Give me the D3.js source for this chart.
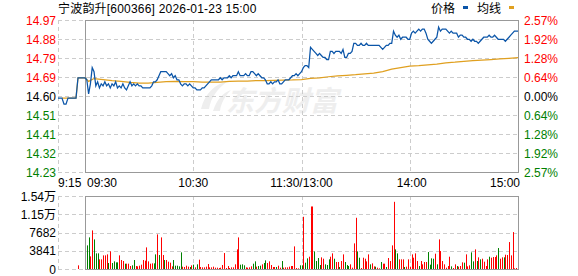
<!DOCTYPE html>
<html><head><meta charset="utf-8">
<script src="https://cdn.jsdelivr.net/npm/d3@7"></script>
<style>
body{margin:0;background:#fff;}
svg{display:block;}
text{font-family:"Liberation Sans",Arial,"Noto Sans CJK SC",sans-serif;font-size:12px;}
</style>
</head><body>
<svg id="c" width="578" height="276"></svg>
<script>
// ---------------- DATA ----------------
const stockName = "宁波韵升";
const stockCode = "600366";
const stamp = "2026-01-23 15:00";
const prevClose = 14.60;
const priceLabels = ["14.97","14.88","14.79","14.69","14.60","14.51","14.41","14.32","14.23"];
const pctLabels = ["2.57%","1.92%","1.28%","0.64%","0.00%","0.64%","1.28%","1.92%","2.57%"];
const volLabels = ["1.54万","1.15万","7682","3841","0"];
const volMax = 15364;
const timeLabels = ["9:15","09:30","10:30","11:30/13:00","14:00","15:00"];
const legendNames = ["价格","均线"];

// pre-market auction 9:15 .. 9:25
const prePrice = [14.59,14.59,14.59,14.56,14.56,14.59,14.59,14.59,14.59,14.59,14.69];
const preAvg   = [null,null,14.59,14.59,14.59,14.59,14.59,14.59,14.59,14.59,14.69];
const preVol = [0,0,0,0,0,0,0,0,0,0,770];

// minute prices 09:30 .. 15:00 (241 points)
const price = [
14.69,14.68,14.61,14.66,14.74,14.72,14.65,14.67,14.64,14.66,
14.65,14.67,14.65,14.66,14.64,14.66,14.65,14.67,14.64,14.65,
14.64,14.66,14.64,14.63,14.65,14.67,14.65,14.66,14.65,14.66,
14.65,14.65,14.64,14.64,14.64,14.64,14.64,14.65,14.67,14.67,
14.68,14.70,14.72,14.72,14.72,14.72,14.71,14.70,14.71,14.69,
14.70,14.68,14.68,14.66,14.65,14.66,14.66,14.65,14.66,14.65,
14.64,14.64,14.63,14.63,14.63,14.64,14.64,14.65,14.66,14.67,
14.68,14.68,14.68,14.68,14.68,14.69,14.68,14.69,14.69,14.69,
14.70,14.69,14.70,14.70,14.70,14.72,14.70,14.70,14.70,14.71,
14.70,14.70,14.72,14.72,14.71,14.70,14.71,14.70,14.69,14.69,
14.68,14.66,14.66,14.67,14.66,14.67,14.67,14.68,14.66,14.66,
14.67,14.68,14.68,14.68,14.69,14.70,14.70,14.71,14.70,14.71,
14.72,14.74,14.75,14.75,14.74,14.84,14.83,14.82,14.81,14.80,
14.81,14.80,14.79,14.79,14.78,14.78,14.82,14.82,14.81,14.82,
14.82,14.82,14.81,14.83,14.79,14.79,14.81,14.81,14.82,14.86,
14.86,14.85,14.85,14.86,14.85,14.85,14.86,14.85,14.85,14.85,
14.85,14.85,14.85,14.85,14.84,14.83,14.84,14.85,14.85,14.86,
14.86,14.92,14.90,14.89,14.90,14.88,14.89,14.89,14.89,14.88,
14.88,14.91,14.92,14.91,14.92,14.93,14.92,14.93,14.93,14.91,
14.88,14.87,14.86,14.87,14.88,14.89,14.94,14.92,14.93,14.93,
14.93,14.92,14.91,14.92,14.91,14.91,14.91,14.89,14.90,14.90,
14.89,14.89,14.88,14.88,14.87,14.88,14.87,14.87,14.86,14.87,
14.88,14.89,14.89,14.89,14.90,14.89,14.89,14.90,14.89,14.88,
14.88,14.88,14.88,14.87,14.88,14.89,14.90,14.91,14.92,14.92,
14.92];

// average price line, sampled minutes
const avgIdx = [0,2,5,10,15,20,25,30,35,40,45,50,55,60,65,70,75,80,85,90,95,100,105,110,115,120,
  125,130,135,140,145,150,155,160,165,170,175,180,185,190,195,200,205,210,215,220,225,230,235,240];
const avgVal = [14.690,14.672,14.686,14.681,14.676,14.672,14.667,14.664,14.663,14.667,14.671,14.672,14.671,
  14.671,14.669,14.669,14.669,14.672,14.674,14.674,14.676,14.676,14.677,14.678,14.679,14.681,
  14.687,14.689,14.695,14.699,14.702,14.705,14.709,14.713,14.720,14.733,14.740,14.747,14.750,
  14.754,14.757,14.764,14.767,14.771,14.774,14.777,14.780,14.783,14.786,14.789];

// minute volume 09:30 .. 15:00
const vol = [
5000,
4970,6650,2660,8120,6230,3290,3290,2030,2030,2870,
2870,3080,1260,3710,1260,1610,1400,1400,2870,1890,
1680,1120,1120,1120,630,770,1890,630,560,700,
910,1890,1750,4550,1610,1120,1190,1190,3080,7280,
2940,6650,2940,1890,1890,1540,1330,560,1890,700,
700,560,3500,490,420,700,490,420,770,910,
350,980,1960,420,350,350,490,1050,350,350,
490,280,280,210,280,840,3360,210,630,210,
350,350,980,4130,6650,910,980,770,350,280,
350,560,1120,1610,490,630,700,980,1260,1820,
1260,1610,840,420,420,420,700,280,1680,280,
350,350,490,630,630,4760,210,140,770,770,
10990,1330,2240,2590,13160,13160,3710,1680,2310,840,
2450,2170,980,840,2030,2590,3290,2170,1470,1470,
420,1680,3080,1470,840,630,980,280,5390,10780,
3710,2380,210,2380,2170,1610,3080,980,1190,560,
490,280,140,1470,1120,1120,420,2310,1680,4970,
14140,4130,3290,2030,2030,2030,420,490,2030,420,
3080,2380,3290,1680,630,1680,980,1470,1470,3570,
910,2240,2170,3220,980,6230,3780,1680,980,280,
630,2590,560,210,980,630,490,630,1400,1330,
3080,560,770,3500,1610,4130,1680,2450,2030,2170,
1540,630,2030,2590,2380,2520,2520,2870,4410,2170,
2450,2450,3010,2940,5670,2870,7770,140,210,6860];
// R = up (red), G = down (green)
const volDir = ("G"+
"GGRRGGGRRR"+"RRGRGGGGRR"+"RGRRRGGRRR"+"RRRRRRRGGR"+"GRRGRRRRGG"+
"GGGRRRRGRG"+"RGRRRRRRRR"+"RRRRRRRRRR"+"RRRRRGGGRR"+"RRGGRGGRGG"+
"RRRRRGRRGR"+"RRRRRRRRGG"+"RGGRRRGGGG"+"RRGGGRRGRR"+"GRRGGGRRRR"+
"GGRRRRRGRR"+"GRRGRRGRRR"+"RGGRRRGRRR"+"RRRRGRRRRG"+"GGGRGRRRRR"+
"RRGRRGRRRG"+"RRRGGRGRGR"+"RRRGRRRRGR"+"RGRRRRRRRR").split("");

// ---------------- DRAW ----------------
const svg = d3.select("#c");
const C = {up:"#ff0000", down:"#008000", flat:"#000000", grid:"#cccccc", frame:"#999999",
           line:"#0b55a8", avg:"#e0a020"};
const L0 = 58, L = 85, R = 518;
const pTop = 20, pBot = 172, vTop = 196, vBot = 269;

const span = 0.375;
const x = d3.scaleLinear().domain([0,240]).range([L,R]);
const xPre = d3.scaleLinear().domain([0,10]).range([L0,78]);
const y = d3.scaleLinear().domain([prevClose-span, prevClose+span]).range([pBot,pTop]);
const yV = d3.scaleLinear().domain([0, volMax]).range([vBot,vTop]);

const g = svg.append("g");

// watermark
const wm = g.append("g").attr("fill","#eeeeee");
wm.append("path").attr("d","M201,109 C205,93 215,84 228,81 C218,88 211,97 209,109 Z M213,111 C217,99 223,93 231,90 C225,96 221,103 220,111 Z");
wm.append("text").attr("x",226).attr("y",111).style("font-family","'Noto Sans CJK SC',sans-serif")
  .style("font-size","28px").style("font-weight","bold").style("font-style","italic").text("东方财富");

// price grid
const nP = priceLabels.length - 1;
for (let k=0;k<=nP;k++){
  const yy = Math.round(pTop + (pBot-pTop)*k/nP)+0.5;
  const x1 = (k===0||k===nP) ? L : R;
  g.append("line").attr("x1",L0).attr("x2",x1).attr("y1",yy).attr("y2",yy)
   .attr("stroke",C.grid).attr("stroke-dasharray","4,3");
}
[60,120,180].forEach(i=>{
  const xx = Math.round(x(i))+0.5;
  g.append("line").attr("x1",xx).attr("x2",xx).attr("y1",pTop).attr("y2",pBot)
   .attr("stroke",C.grid).attr("stroke-dasharray","4,3");
  g.append("line").attr("x1",xx).attr("x2",xx).attr("y1",vTop).attr("y2",vBot)
   .attr("stroke",C.grid).attr("stroke-dasharray","4,3");
});
g.append("line").attr("x1",L0+0.5).attr("x2",L0+0.5).attr("y1",pTop).attr("y2",pBot)
 .attr("stroke",C.grid).attr("stroke-dasharray","4,3");

// volume grid
const nV = volLabels.length - 1;
for (let k=0;k<=nV;k++){
  const yy = Math.round(vTop + (vBot-vTop)*k/nV)+0.5;
  const x1 = (k===0||k===nV) ? L : R;
  g.append("line").attr("x1",L0).attr("x2",x1).attr("y1",yy).attr("y2",yy)
   .attr("stroke",C.grid).attr("stroke-dasharray","4,3");
}
g.append("line").attr("x1",L0+0.5).attr("x2",L0+0.5).attr("y1",vTop).attr("y2",vBot)
 .attr("stroke",C.grid).attr("stroke-dasharray","4,3");

// volume bars
const vcol = d => d==="G" ? C.down : C.up;
g.append("g").selectAll("line").data(vol).join("line")
  .attr("x1",(d,i)=>Math.round(x(i))+0.5).attr("x2",(d,i)=>Math.round(x(i))+0.5)
  .attr("y1",vBot).attr("y2",d=>yV(d))
  .attr("stroke",(d,i)=>vcol(volDir[i]||"R")).attr("stroke-width",1);
g.append("g").selectAll("line").data(preVol.map((v,k)=>({v,k})).filter(d=>d.v>0)).join("line")
  .attr("x1",d=>Math.round(xPre(d.k))+0.5).attr("x2",d=>Math.round(xPre(d.k))+0.5)
  .attr("y1",vBot).attr("y2",d=>yV(d.v)).attr("stroke",C.up);

// frames
g.append("rect").attr("x",L+0.5).attr("y",pTop+0.5).attr("width",R-L).attr("height",pBot-pTop)
 .attr("fill","none").attr("stroke",C.frame);
g.append("rect").attr("x",L+0.5).attr("y",vTop+0.5).attr("width",R-L).attr("height",vBot-vTop)
 .attr("fill","none").attr("stroke",C.frame);

// lines
const line = d3.line().x(d=>d[0]).y(d=>y(d[1]));
const prePts = prePrice.map((p,k)=>[xPre(k),p]); prePts.push([x(0),prePrice[prePrice.length-1]]);
const preAvgPts = preAvg.map((p,k)=>[xPre(k),p]).filter(d=>d[1]!==null); preAvgPts.push([x(0),preAvg[preAvg.length-1]]);
const lw = 1.25;
g.append("path").attr("d",line(preAvgPts)).attr("fill","none").attr("stroke",C.avg).attr("stroke-width",lw);
g.append("path").attr("d",line(prePts)).attr("fill","none").attr("stroke",C.line).attr("stroke-width",lw);
g.append("path").attr("d",line(avgIdx.map((i,k)=>[x(i),avgVal[k]])))
 .attr("fill","none").attr("stroke",C.avg).attr("stroke-width",lw);
g.append("path").attr("d",line(price.map((p,i)=>[x(i),p])))
 .attr("fill","none").attr("stroke",C.line).attr("stroke-width",lw);

// left price labels & right pct labels
priceLabels.forEach((t,k)=>{
  const yy = pTop + (pBot-pTop)*k/nP;
  const col = k<nP/2 ? C.up : (k===nP/2 ? C.flat : C.down);
  g.append("text").attr("x",56).attr("y",yy+4.5).attr("text-anchor","end").attr("fill",col).text(t);
  g.append("text").attr("x",524).attr("y",yy+4.5).attr("fill",col).text(pctLabels[k]);
});
// volume labels
volLabels.forEach((t,k)=>{
  const yy = vTop + (vBot-vTop)*k/nV;
  g.append("text").attr("x",56).attr("y",yy+4.5).attr("text-anchor","end").attr("fill","#000").text(t);
});

// time labels
const tpos = [[L0,"start"],[L+2,"start"],[x(60),"middle"],[x(120),"middle"],[x(180)+2,"middle"],[R+2,"end"]];
timeLabels.forEach((t,k)=>{
  g.append("text").attr("x",tpos[k][0]).attr("y",187).attr("text-anchor",tpos[k][1]).attr("fill","#000").text(t);
});

// title
g.append("text").attr("x",L0).attr("y",13).attr("fill","#000").style("letter-spacing","0.2px")
 .text(stockName+"["+stockCode+"] "+stamp);
// legend
g.append("text").attr("x",431).attr("y",13).attr("fill","#000").text(legendNames[0]);
g.append("rect").attr("x",463).attr("y",6).attr("width",5).attr("height",3).attr("fill",C.line);
g.append("text").attr("x",477).attr("y",13).attr("fill","#000").text(legendNames[1]);
g.append("rect").attr("x",509).attr("y",6).attr("width",5).attr("height",3).attr("fill",C.avg);
</script>
</body></html>
